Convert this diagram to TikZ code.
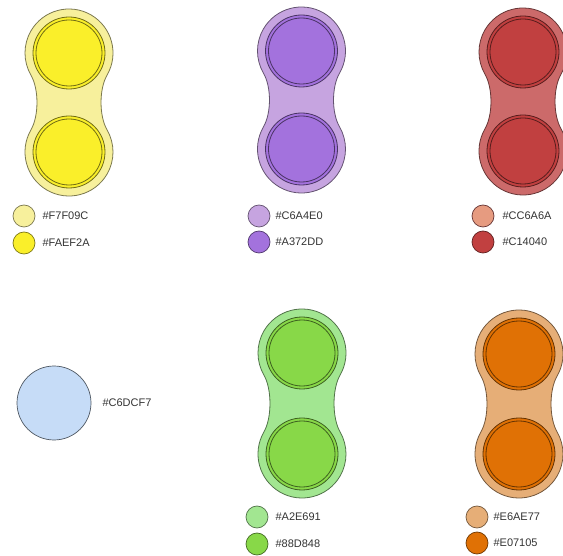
\documentclass[tikz,border=0pt]{standalone}
\usepackage{fontspec}
\setmainfont{Liberation Sans}
\usetikzlibrary{positioning}

\definecolor{yelLight}{HTML}{F7F09C}
\definecolor{yelDark}{HTML}{FAEF2A}
\definecolor{purLight}{HTML}{C6A4E0}
\definecolor{purDark}{HTML}{A372DD}
\definecolor{redLight}{HTML}{CC6A6A}
\definecolor{redDark}{HTML}{C14040}
\definecolor{bluLight}{HTML}{C6DCF7}
\definecolor{grnLight}{HTML}{A2E691}
\definecolor{grnDark}{HTML}{88D848}
\definecolor{orgLight}{HTML}{E6AE77}
\definecolor{orgDark}{HTML}{E07105}

% capsule: #1 x, #2 y of top circle, #3 distance between circles, #4 light, #5 dark
\newcommand{\capsule}[5]{%
  \begin{scope}[shift={(#1,#2)}]
    \draw[shell, fill=#4, draw=#4!50!black]
      (38.1,22) arc[start angle=30, end angle=-210, radius=44]
      .. controls (-30,36.1) and (-30,#3-36.1) .. (-38.1,#3-22)
      arc[start angle=210, end angle=-30, radius=44]
      .. controls (30,#3-36.1) and (30,36.1) .. cycle;
    \draw[ring, fill=#5, draw=#5!45!black] (0,0) circle[radius=36];
    \draw[ring, draw=#5!45!black] (0,0) circle[radius=33];
    \draw[ring, fill=#5, draw=#5!45!black] (0,#3) circle[radius=36];
    \draw[ring, draw=#5!45!black] (0,#3) circle[radius=33];
  \end{scope}}

\begin{document}
\begin{tikzpicture}[x=1pt, y=-1pt,
        shell/.style={line width=0.8pt},
        ring/.style={line width=0.8pt},
        swatch/.style={circle, draw, line width=0.7pt, minimum size=22pt, inner sep=0pt},
        hexcode/.style={inner sep=0pt, anchor=west, font=\fontsize{11}{13}\selectfont, text=black!80}]
        \useasboundingbox (0,0) rectangle (563,556);

        % top row
        \capsule{69}{53}{99}{yelLight}{yelDark}
        \capsule{301.5}{51}{98}{purLight}{purDark}
        \capsule{523}{52}{99}{redLight}{redDark}

        \node[swatch, fill=yelLight, draw=yelLight!50!black] (yl) at (24,216) {};
        \node[swatch, fill=yelDark, draw=yelDark!50!black] (yd) at (24,243) {};
        \node[hexcode, right=7pt of yl] (ylt) {\#F7F09C};
        \node[hexcode, right=7pt of yd] (ydt) {\#FAEF2A};

        \node[swatch, fill=purLight, draw=purLight!50!black] (pl) at (259,216) {};
        \node[swatch, fill=purDark, draw=purDark!50!black] (pd) at (259,242) {};
        \node[hexcode, right=5pt of pl] (plt) {\#C6A4E0};
        \node[hexcode, right=5pt of pd] (pdt) {\#A372DD};

        \node[swatch, fill=redLight!70!orange!70!white, draw=redLight!50!black] (rl) at (483,216) {};
        \node[swatch, fill=redDark, draw=redDark!50!black] (rd) at (483,242) {};
        \node[hexcode, right=8pt of rl] (rlt) {\#CC6A6A};
        \node[hexcode, right=8pt of rd] (rdt) {\#C14040};

        % bottom row
        \node[swatch, fill=bluLight, draw=bluLight!40!black, minimum size=74pt] (bl) at (54,403) {};
        \node[hexcode, right=11pt of bl] (blt) {\#C6DCF7};

        \capsule{302}{353}{101}{grnLight}{grnDark}
        \capsule{519}{354}{100}{orgLight}{orgDark}

        \node[swatch, fill=grnLight, draw=grnLight!50!black] (gl) at (257,517) {};
        \node[swatch, fill=grnDark, draw=grnDark!50!black] (gd) at (257,544) {};
        \node[hexcode, right=7pt of gl] (glt) {\#A2E691};
        \node[hexcode, right=7pt of gd] (gdt) {\#88D848};

        \node[swatch, fill=orgLight, draw=orgLight!50!black] (ol) at (477,517) {};
        \node[swatch, fill=orgDark, draw=orgDark!50!black] (od) at (477,543) {};
        \node[hexcode, right=5pt of ol] (olt) {\#E6AE77};
        \node[hexcode, right=5pt of od] (odt) {\#E07105};
    \end{tikzpicture}
\end{document}
